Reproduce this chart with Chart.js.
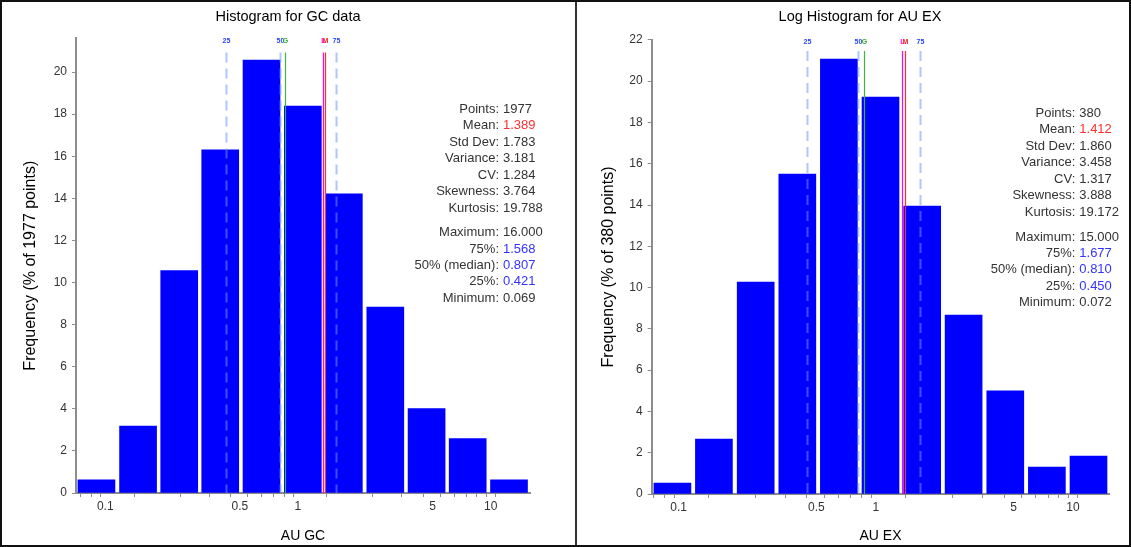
<!DOCTYPE html>
<html>
<head>
<meta charset="utf-8">
<title>Histograms GC / EX</title>
<script src="https://cdn.jsdelivr.net/npm/chart.js@4.4.1/dist/chart.umd.min.js"></script>
<style>
    html, body { margin: 0; padding: 0; background: #fff; }
    #wrap { position: relative; width: 1131px; height: 547px; overflow: hidden; }
    canvas { position: absolute; top: 0; }
    #gcChart { left: 0; }
    #exChart { left: 576px; }
    #frame {
        position: absolute; left: 0; top: 0; width: 1131px; height: 547px;
        box-sizing: border-box; border: 2px solid #111; pointer-events: none;
    }
    #divider { position: absolute; left: 575px; top: 0; width: 2px; height: 547px; background: #333; }
</style>
</head>
<body>
<div id="wrap">
    <canvas id="gcChart" width="576" height="547"></canvas>
    <canvas id="exChart" width="555" height="547"></canvas>
    <div id="divider"></div>
    <div id="frame"></div>
</div>

<script>
/* ───────────── data ───────────── */

// bin centres (AU), bins are equal width on the log axis
const gcBinCentres = [0.090, 0.148, 0.242, 0.395, 0.647, 1.06, 1.73, 2.84, 4.65, 7.60, 12.45];
const gcFrequency  = [0.62, 3.18, 10.57, 16.3, 20.57, 18.39, 14.22, 8.83, 4.01, 2.59, 0.62];

const exBinCentres = [0.093, 0.151, 0.246, 0.400, 0.650, 1.057, 1.72, 2.79, 4.54, 7.38, 12.0];
const exFrequency  = [0.53, 2.66, 10.27, 15.5, 21.07, 19.23, 13.95, 8.67, 5.0, 1.31, 1.84];

// x axis range (AU)
const gcRange = [0.0705, 16.0];
const exRange = [0.0730, 15.3];

// y axis top (% of points)
const gcYMax = 21.6;
const exYMax = 22;

// log axis ticks
const xTickValues  = [0.07, 0.08, 0.09, 0.1, 0.2, 0.3, 0.4, 0.5, 0.6, 0.7, 0.8, 0.9,
                      1, 2, 3, 4, 5, 6, 7, 8, 9, 10];
const xLabelTicks  = [0.1, 0.5, 1, 5, 10];

// marker lines: 25%, median, geometric mean, lognormal mean, mean, 75%
const markerNames  = ['25', '50', 'G', 'L', 'M', '75'];
const gcMarkers    = [0.421, 0.807, 0.857, 1.35, 1.389, 1.568];
const exMarkers    = [0.450, 0.810, 0.870, 1.36, 1.412, 1.677];

// summary statistics
const statLabels   = ['Points:', 'Mean:', 'Std Dev:', 'Variance:', 'CV:', 'Skewness:', 'Kurtosis:',
                      'Maximum:', '75%:', '50% (median):', '25%:', 'Minimum:'];
const gcStatValues = ['1977', '1.389', '1.783', '3.181', '1.284', '3.764', '19.788',
                      '16.000', '1.568', '0.807', '0.421', '0.069'];
const exStatValues = ['380', '1.412', '1.860', '3.458', '1.317', '3.888', '19.172',
                      '15.000', '1.677', '0.810', '0.450', '0.072'];

/* ───────────── styling ───────────── */

const FONT = "'Liberation Sans', Arial, sans-serif";
const TEXT = '#333333';
const AXIS = '#8c8c8c';
const BAR  = '#0000ff';

const markerStyles = [
    { color: 'rgba(110,150,255,0.55)', width: 2, dash: [10, 6], label: '#2a44ff' },
    { color: 'rgba(110,150,255,0.55)', width: 2, dash: [10, 6], label: '#2a44ff' },
    { color: '#3cb83c', width: 1.2, dash: [], label: '#2fae2f' },
    { color: '#ff00ff', width: 1.2, dash: [], label: '#ff00ff' },
    { color: '#ff3030', width: 1.2, dash: [], label: '#ff2020' },
    { color: 'rgba(110,150,255,0.55)', width: 2, dash: [10, 6], label: '#2a44ff' }
];
const statColors = [TEXT, '#ff3030', TEXT, TEXT, TEXT, TEXT, TEXT, TEXT, '#3333ff', '#3333ff', '#3333ff', TEXT];

/**
 * Marker lines + summary box, drawn on top of the bars
 */
const overlayPlugin = {
    id: 'overlay',
    afterDatasetsDraw(chart, args, opts) {
        const { ctx, chartArea } = chart;
        const xs = chart.scales.x;

        // vertical marker lines
        opts.markers.forEach((v, i) => {
            const st = markerStyles[i];
            const px = Math.round(xs.getPixelForValue(Math.log10(v))) + 0.5;
            ctx.save();
            ctx.strokeStyle = st.color;
            ctx.lineWidth = st.width;
            ctx.setLineDash(st.dash);
            ctx.beginPath();
            ctx.moveTo(px, chartArea.top + opts.lineTop);
            ctx.lineTo(px, chartArea.bottom);
            ctx.stroke();
            ctx.restore();

            ctx.save();
            ctx.fillStyle = st.label;
            ctx.font = 'bold 7px ' + FONT;
            ctx.textAlign = 'center';
            ctx.textBaseline = 'middle';
            ctx.fillText(markerNames[i], px, chartArea.top + opts.labelTop);
            ctx.restore();
        });

        // statistics text
        ctx.save();
        ctx.font = '13px ' + FONT;
        ctx.textBaseline = 'middle';
        statLabels.forEach((lab, i) => {
            const y = i < 7 ? opts.statY0 + i * 16.5 : opts.statY1 + (i - 7) * 16.4;
            ctx.textAlign = 'right';
            ctx.fillStyle = TEXT;
            ctx.fillText(lab, opts.statX, y);
            ctx.textAlign = 'left';
            ctx.fillStyle = statColors[i];
            ctx.fillText(opts.values[i], opts.statX + 4, y);
        });
        ctx.restore();
    }
};

/**
 * Histogram on a log10 x axis
 */
function makeHistogram(canvasId, cfg) {
    const ctx = document.getElementById(canvasId);
    if (!ctx || !window.Chart) return null;

    return new Chart(ctx, {
        type: 'bar',
        data: {
            datasets: [{
                data: cfg.centres.map((c, i) => ({ x: Math.log10(c), y: cfg.freq[i] })),
                backgroundColor: BAR,
                borderWidth: 0,
                barThickness: cfg.barWidth
            }]
        },
        plugins: [overlayPlugin],
        options: {
            responsive: false,
            animation: false,
            layout: { padding: { left: cfg.padLeft, right: 0, top: 0, bottom: 0 } },
            plugins: {
                legend: { display: false },
                tooltip: { enabled: false },
                title: {
                    display: true,
                    text: cfg.title,
                    color: '#000',
                    font: { family: FONT, size: 14.5, weight: 'normal', lineHeight: 1.2 },
                    padding: { top: 8, bottom: cfg.titleGap }
                },
                overlay: cfg.overlay
            },
            scales: {
                x: {
                    type: 'linear',
                    offset: false,
                    min: Math.log10(cfg.range[0]),
                    max: Math.log10(cfg.range[1]),
                    afterFit: s => { s.height = cfg.xAxisHeight; },
                    afterBuildTicks: s => { s.ticks = xTickValues.map(v => ({ value: Math.log10(v) })); },
                    grid: { display: true, drawOnChartArea: false, drawTicks: true, tickLength: 4, color: AXIS },
                    border: { display: true, color: AXIS, width: 2 },
                    ticks: {
                        autoSkip: false,
                        maxRotation: 0,
                        padding: 2,
                        color: TEXT,
                        font: { family: FONT, size: 12 },
                        callback: (value) => {
                            const v = Math.pow(10, value);
                            const hit = xLabelTicks.find(t => Math.abs(t - v) / t < 1e-6);
                            return hit !== undefined ? String(hit) : '';
                        }
                    },
                    title: {
                        display: true,
                        text: cfg.xTitle,
                        color: '#000',
                        font: { family: FONT, size: 14, lineHeight: 1.2 },
                        padding: { top: 0, bottom: 2 }
                    }
                },
                y: {
                    min: 0,
                    max: cfg.yMax,
                    afterFit: s => { s.width = cfg.yAxisWidth; },
                    grid: { display: true, drawOnChartArea: false, drawTicks: true, tickLength: 4, color: AXIS },
                    border: { display: true, color: AXIS, width: 2 },
                    ticks: {
                        stepSize: 2,
                        includeBounds: false,
                        padding: 5,
                        color: TEXT,
                        font: { family: FONT, size: 12 }
                    },
                    title: {
                        display: true,
                        text: cfg.yTitle,
                        color: '#000',
                        font: { family: FONT, size: 16, lineHeight: 1.2 },
                        padding: { top: cfg.yTitlePad, bottom: 0 }
                    }
                },
                // empty spacer on the right so the plot ends where the reference does
                yr: {
                    position: 'right',
                    display: true,
                    afterFit: s => { s.width = cfg.rightSpace; },
                    grid: { display: false },
                    border: { display: false },
                    ticks: { display: false }
                }
            }
        }
    });
}

makeHistogram('gcChart', {
    title: 'Histogram for GC data',
    xTitle: 'AU GC',
    yTitle: 'Frequency (% of 1977 points)',
    centres: gcBinCentres,
    freq: gcFrequency,
    range: gcRange,
    yMax: gcYMax,
    barWidth: 37,
    padLeft: 0,
    rightSpace: 46,
    titleGap: 13,
    xAxisHeight: 54,
    yAxisWidth: 76,
    yTitlePad: 21,
    overlay: { markers: gcMarkers, values: gcStatValues, lineTop: 14, labelTop: 3,
               statX: 499, statY0: 109, statY1: 232.7 }
});

makeHistogram('exChart', {
    title: 'Log Histogram for AU EX',
    xTitle: 'AU EX',
    yTitle: 'Frequency (% of 380 points)',
    centres: exBinCentres,
    freq: exFrequency,
    range: exRange,
    yMax: exYMax,
    barWidth: 37,
    padLeft: 13,
    rightSpace: 21.7,
    titleGap: 14.5,
    xAxisHeight: 53,
    yAxisWidth: 62.7,
    yTitlePad: 10,
    overlay: { markers: exMarkers, values: exStatValues, lineTop: 11, labelTop: 2,
               statX: 499.3, statY0: 113.3, statY1: 237 }
});
</script>
</body>
</html>
